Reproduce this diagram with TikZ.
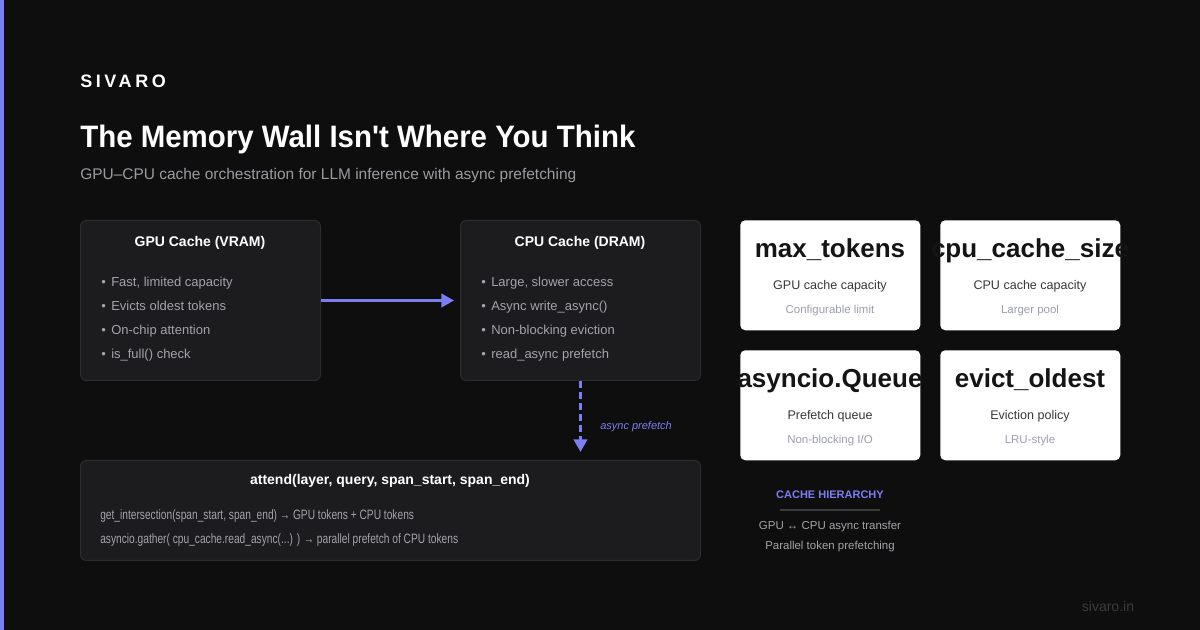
\documentclass[tikz,border=0pt]{standalone}
\usepackage{fontspec}
\setmainfont{Liberation Sans}
\newfontfamily\titlefont[FakeStretch=0.95]{Liberation Sans}
\newfontfamily\narrowfont[FakeStretch=0.75]{Liberation Sans}
\newfontfamily\brandfont[LetterSpace=20]{Liberation Sans}
\usetikzlibrary{positioning,arrows.meta}
\definecolor{PageBg}{HTML}{0E0E0F}
\definecolor{Accent}{HTML}{7B7FF0}
\definecolor{Panel}{HTML}{1C1C1F}
\definecolor{PanelRule}{HTML}{2C2C30}
\definecolor{Muted}{HTML}{A3A3A9}
\definecolor{CardInk}{HTML}{141414}
\definecolor{CardMuted}{HTML}{9C9EB0}
\definecolor{Faint}{HTML}{3C3C3E}
\newcommand{\pt}{\makebox[7.5pt][l]{•}}

\begin{document}
\begin{tikzpicture}[
  x=0.75pt, y=-0.75pt,
  panel/.style={draw=PanelRule,line width=.75pt,rounded corners=4.5pt,fill=Panel,
                anchor=north west,minimum width=180pt,minimum height=120pt,inner sep=0pt},
  card/.style={fill=white,rounded corners=3.75pt,anchor=north west,
               minimum width=135pt,minimum height=82.5pt,inner sep=0pt},
  head/.style={anchor=base,text=white,inner sep=0pt,
               font=\bfseries\fontsize{10.5}{12}\selectfont},
  item/.style={anchor=base west,text=Muted,inner sep=0pt,
               font=\fontsize{9.75}{12}\selectfont},
  code/.style={anchor=base west,text=Muted,inner sep=0pt,
               font=\narrowfont\fontsize{10.2}{12}\selectfont},
  big/.style={anchor=base,text=CardInk,inner sep=0pt,
              font=\bfseries\fontsize{19.5}{22}\selectfont},
  what/.style={anchor=base,text=CardInk!85,inner sep=0pt,
               font=\fontsize{9.4}{11}\selectfont},
  hint/.style={anchor=base,text=CardMuted,inner sep=0pt,
               font=\fontsize{8.6}{10}\selectfont},
  flow/.style={draw=Accent,line width=2.25pt,-{Triangle[length=9.5pt,width=10pt]}}]

\useasboundingbox (0,0) rectangle (1200,630);
\fill[PageBg] (0,0) rectangle (1200,630);
\fill[Accent] (0,0) rectangle (4,630);

\node[anchor=base west,inner sep=0pt,text=white,font=\brandfont\bfseries\fontsize{13.5}{15}\selectfont]
  (brand) at (80,88) {SIVARO};
\node[anchor=base west,inner sep=0pt,text=white,font=\titlefont\bfseries\fontsize{23.25}{26}\selectfont]
  (title) at (80,148) {The Memory Wall Isn't Where You Think};
\node[anchor=base west,inner sep=0pt,text=Muted!95!black,font=\fontsize{11.6}{14}\selectfont]
  (sub) at (80,180) {GPU–CPU cache orchestration for LLM inference with async prefetching};

\node[panel] (gpu) at (80,220) {};
\node[head] (gpuhead) at (200,247) {GPU Cache (VRAM)};
\node[item] (g1) at (101,287) {\pt Fast, limited capacity};
\node[item] (g2) at (101,311) {\pt Evicts oldest tokens};
\node[item] (g3) at (101,335) {\pt On-chip attention};
\node[item] (g4) at (101,359) {\pt is\_full() check};

\node[panel] (cpu) at (460,220) {};
\node[head] (cpuhead) at (580,247) {CPU Cache (DRAM)};
\node[item] (c1) at (481,287) {\pt Large, slower access};
\node[item] (c2) at (481,311) {\pt Async write\_async()};
\node[item] (c3) at (481,335) {\pt Non-blocking eviction};
\node[item] (c4) at (481,359) {\pt read\_async prefetch};

\node[panel,minimum width=465pt,minimum height=75pt] (attend) at (80,460) {};
\node[head] (attendhead) at (390,485)
  {attend(layer, query, span\_start, span\_end)};
\node[code] (a1) at (100,520) {get\_intersection(span\_start, span\_end) → GPU tokens + CPU tokens};
\node[code] (a2) at (100,544) {asyncio.gather( cpu\_cache.read\_async(...) ) → parallel prefetch of CPU tokens};

\draw[flow,shorten >=4.5pt] (gpu) -- (cpu);
\draw[flow,dash pattern=on 5.25pt off 3pt,shorten >=6pt] (cpu) -- (cpu |- attend.north);
\node[anchor=base west,inner sep=0pt,text=Accent,font=\itshape\fontsize{8.25}{10}\selectfont]
  (lbl) at (600,430) {async prefetch};

\node[card] (ctok) at (740,220) {};
\node[big]  (ctokbig) at (830,258) {max\_tokens};
\node[what] (ctokwhat) at (830,290) {GPU cache capacity};
\node[hint] (ctokhint) at (830,314) {Configurable limit};

\node[card] (csize) at (940,220) {};
\node[big]  (csizebig) at (1030,258) {cpu\_cache\_size};
\node[what] (csizewhat) at (1030,290) {CPU cache capacity};
\node[hint] (csizehint) at (1030,314) {Larger pool};

\node[card] (cqueue) at (740,350) {};
\node[big]  (cqueuebig) at (830,388) {asyncio.Queue};
\node[what] (cqueuewhat) at (830,420) {Prefetch queue};
\node[hint] (cqueuehint) at (830,444) {Non-blocking I/O};

\node[card] (cevict) at (940,350) {};
\node[big]  (cevictbig) at (1030,388) {evict\_oldest};
\node[what] (cevictwhat) at (1030,420) {Eviction policy};
\node[hint] (cevicthint) at (1030,444) {LRU-style};

\node[anchor=base,inner sep=0pt,text=Accent,font=\bfseries\fontsize{8.25}{10}\selectfont]
  (hier) at (830,499) {CACHE HIERARCHY};
\draw[Faint,line width=1.1pt] (780,510) -- (880,510);
\node[anchor=base,inner sep=0pt,text=Muted,font=\fontsize{8.6}{10}\selectfont]
  (hier1) at (830,530) {GPU ↔ CPU async transfer};
\node[anchor=base,inner sep=0pt,text=Muted,font=\fontsize{8.6}{10}\selectfont]
  (hier2) at (830,550) {Parallel token prefetching};

\node[anchor=base,inner sep=0pt,text=Faint,font=\fontsize{10.5}{12}\selectfont]
  (site) at (1108,612) {sivaro.in};
\end{tikzpicture}
\end{document}
